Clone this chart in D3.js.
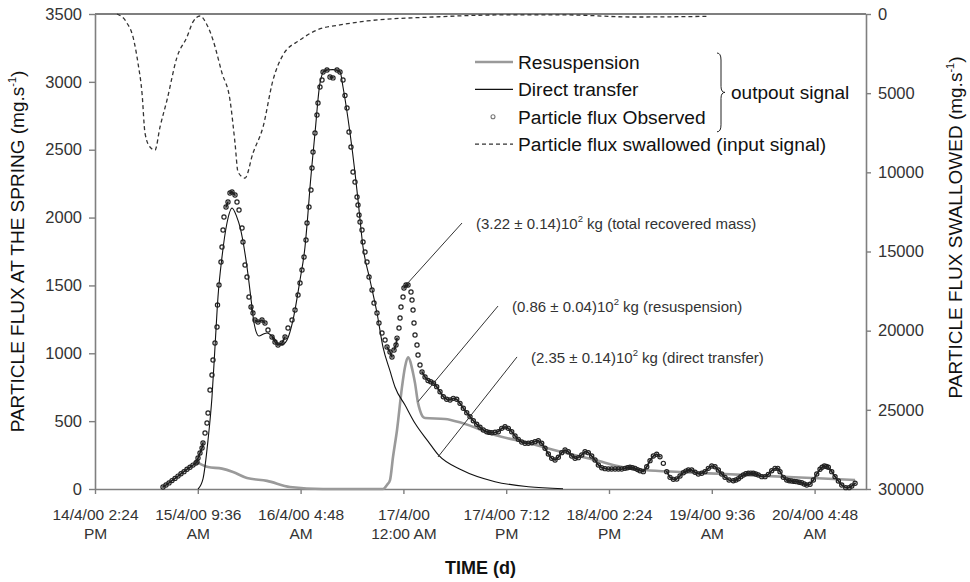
<!DOCTYPE html>
<html>
<head>
<meta charset="utf-8">
<script src="https://cdnjs.cloudflare.com/ajax/libs/d3/7.8.5/d3.min.js"></script>
<style>
  body { margin: 0; background: #fff; }
  svg { font-family: "Liberation Sans", Arial, sans-serif; }
</style>
</head>
<body>
<div id="app"></div>
<script>
const width = 970;
const height = 582;
const margin = {top: 14, right: 104, bottom: 93, left: 95};

// time axis: hours since 14/4/00 2:24 PM
const start = Date.UTC(2000, 3, 14, 14, 24);
const HOUR = 3600e3;
const timeMax = 144;
const timeTicks = [0, 19.2, 38.4, 57.6, 76.8, 96, 115.2, 134.4];
const timeLabels = [
  ['14/4/00 2:24', 'PM'], ['15/4/00 9:36', 'AM'], ['16/4/00 4:48', 'AM'], ['17/4/00', '12:00 AM'],
  ['17/4/00 7:12', 'PM'], ['18/4/00 2:24', 'PM'], ['19/4/00 9:36', 'AM'], ['20/4/00 4:48', 'AM'],
];
const leftTicks = [0, 500, 1000, 1500, 2000, 2500, 3000, 3500];
const rightTicks = [0, 5000, 10000, 15000, 20000, 25000, 30000];

// [hours, mg/s]
const observed = [
  [12.70, 15], [13.26, 30], [13.82, 45], [14.38, 62], [14.94, 78], [15.50, 95], [16.06, 112], [16.62, 128],
  [17.18, 145], [17.74, 160], [18.30, 176], [18.86, 192], [19.05, 199], [19.24, 228], [19.61, 265], [19.99, 302],
  [20.17, 339], [20.55, 413], [20.92, 486], [21.11, 560], [21.48, 730], [21.85, 840], [22.04, 950], [22.41, 1076],
  [22.79, 1194], [22.88, 1356], [23.16, 1503], [23.53, 1673], [23.72, 1783], [23.91, 1908], [24.09, 2004],
  [24.47, 2078], [24.84, 2115], [25.21, 2181], [25.59, 2189], [26.15, 2166], [26.52, 2115], [26.90, 2056],
  [27.46, 1923], [27.64, 1820], [28.02, 1651], [28.39, 1562], [28.76, 1415], [29.14, 1341], [29.51, 1297],
  [29.88, 1245], [30.44, 1231], [31.19, 1245], [31.75, 1223], [32.31, 1172], [33.06, 1120], [33.62, 1083],
  [34.18, 1061], [34.93, 1076], [35.49, 1120], [36.05, 1186], [36.80, 1245], [37.36, 1319], [37.92, 1430],
  [38.29, 1518], [38.66, 1614], [39.04, 1710], [39.41, 1835], [39.60, 1960], [39.97, 2078], [40.34, 2203],
  [40.53, 2365], [40.72, 2483], [41.09, 2623], [41.46, 2756], [41.65, 2844], [42.02, 2962], [42.40, 3014],
  [42.59, 3073], [43.33, 3087], [43.89, 3036], [44.45, 3029], [45.20, 3087], [45.76, 3073], [46.32, 3014],
  [46.69, 2900], [47.07, 2807], [47.44, 2630], [47.81, 2520], [48.19, 2336], [48.56, 2262], [48.94, 2152],
  [49.12, 2093], [49.31, 2019], [49.50, 1967], [49.87, 1908], [50.06, 1820], [50.43, 1746], [50.80, 1673],
  [51.18, 1562], [51.74, 1466], [52.11, 1371], [52.67, 1297], [53.04, 1223], [53.60, 1150], [54.17, 1098],
  [54.54, 1046], [55.10, 1010], [55.47, 973], [55.85, 1024], [56.22, 1061], [56.41, 1112], [56.78, 1186],
  [56.97, 1260], [57.15, 1341], [57.53, 1415], [57.71, 1481], [58.09, 1503], [58.46, 1503], [59.02, 1452],
  [59.21, 1393], [59.40, 1319], [59.58, 1223], [59.77, 1135], [60.14, 1061], [60.33, 987], [60.70, 914],
  [61.08, 862], [61.64, 825], [62.20, 800], [62.70, 790], [63.23, 779], [63.82, 754], [64.44, 717], [65.06, 680],
  [65.69, 661], [66.31, 656], [66.92, 668], [67.56, 661], [68.17, 631], [68.79, 595], [69.43, 562], [70.04, 533],
  [70.66, 503], [71.29, 477], [71.91, 455], [72.53, 435], [73.16, 422], [73.63, 417], [74.10, 415], [74.71, 418],
  [75.33, 422], [75.96, 447], [76.58, 459], [77.20, 447], [77.83, 422], [78.45, 391], [79.06, 366], [79.70, 346],
  [80.31, 337], [80.93, 337], [81.57, 341], [82.18, 349], [82.80, 356], [83.43, 337], [84.05, 300], [84.67, 258],
  [85.30, 226], [85.92, 214], [86.54, 234], [87.17, 268], [87.79, 287], [88.40, 275], [89.04, 243], [89.66, 226],
  [90.27, 231], [90.91, 251], [91.52, 275], [92.14, 268], [92.77, 243], [93.39, 214], [94.01, 177], [94.64, 157],
  [95.25, 150], [95.87, 147], [96.50, 147], [97.13, 147], [97.76, 147], [98.38, 147], [98.99, 152], [99.45, 157],
  [99.92, 160], [100.40, 157], [100.86, 152], [101.33, 143], [101.79, 135], [102.41, 128], [103.05, 164],
  [103.66, 209], [104.28, 243], [104.91, 256], [105.52, 238], [106.15, 189], [106.78, 128], [107.40, 86],
  [108.02, 71], [108.66, 74], [109.26, 96], [109.88, 120], [110.35, 132], [110.82, 140], [111.45, 140],
  [112.07, 123], [112.68, 111], [113.32, 116], [113.93, 128], [114.55, 152], [115.19, 169], [115.80, 164],
  [116.42, 140], [117.05, 111], [117.67, 86], [118.42, 66], [119.22, 61], [119.70, 66], [120.16, 76],
  [120.62, 90], [121.09, 103], [121.55, 112], [122.02, 116], [122.50, 117], [122.96, 116], [123.42, 110],
  [123.89, 103], [124.53, 91], [125.14, 91], [125.76, 108], [126.39, 135], [127.01, 152], [127.52, 152],
  [127.94, 128], [128.56, 86], [129.20, 66], [129.66, 61], [130.13, 59], [130.60, 56], [131.06, 54], [131.53, 50],
  [132.00, 46], [132.46, 37], [132.93, 29], [133.55, 35], [134.17, 66], [134.80, 111], [135.41, 145], [135.80, 160],
  [136.22, 169], [136.60, 166], [136.96, 160], [137.60, 128], [138.22, 91], [138.84, 59], [139.47, 29],
  [140.22, 10], [140.84, 10], [141.34, 22], [141.96, 42],
];

const directTransfer = [
  [19.24, 0], [20.17, 75], [21.11, 361], [21.85, 678], [22.41, 1046], [22.97, 1415], [23.72, 1710], [24.65, 1960],
  [25.59, 2071], [26.46, 2007], [27.08, 1931], [28.39, 1636], [29.32, 1341], [29.70, 1223], [30.63, 1127],
  [31.38, 1140], [32.13, 1150], [33.25, 1120], [34.55, 1061], [35.30, 1070], [35.86, 1098], [36.98, 1245],
  [38.29, 1540], [39.22, 1783], [39.78, 2034], [40.16, 2225], [41.09, 2623], [42.02, 2991], [42.96, 3087],
  [44.45, 3090], [45.76, 3075], [46.32, 2962], [47.63, 2623], [48.56, 2330], [49.12, 2130], [50.06, 1783],
  [51.36, 1540], [52.67, 1297], [53.79, 1046], [55.10, 870], [56.03, 752], [57.90, 619], [59.77, 484],
  [62.25, 349], [64.12, 251], [68.49, 140], [74.71, 54], [80.93, 17], [87.41, 2],
];

const resuspension = [
  [19.24, 195], [21.11, 162], [23.72, 150], [25.78, 125], [28.39, 81], [32.13, 60], [36.42, 15], [42.59, 0],
  [53.79, 0], [54.54, 30], [55.10, 66], [55.66, 236], [56.41, 435], [57.34, 752], [57.90, 899], [58.46, 970],
  [59.40, 855], [59.77, 780], [60.33, 634], [60.70, 580], [61.26, 531], [61.64, 523], [65.37, 516], [68.55, 486],
  [74.71, 398], [80.87, 339], [87.22, 273], [93.39, 214], [98.43, 162], [102.73, 140], [109.26, 125],
  [117.67, 110], [126.08, 95], [133.92, 81], [141.96, 66],
];

// right axis, mg/s (reversed)
const swallowed = [
  [4.11, 0], [5.98, 570], [7.10, 1450], [8.03, 3100], [8.78, 4990], [9.34, 7520], [10.27, 8400], [11.21, 8590],
  [12.14, 7140], [13.45, 5430], [15.32, 2720], [17.18, 1450], [18.30, 500], [19.61, 126], [20.92, 690],
  [22.04, 1640], [23.72, 3730], [25.21, 5430], [26.15, 8150], [26.71, 9980], [28.02, 10360], [29.51, 8780],
  [31.38, 7140], [33.25, 4170], [35.11, 2590], [38.29, 1640], [41.46, 1010], [45.76, 690], [50.80, 440],
  [63.13, 190], [75.64, 60], [88.16, 60], [100.49, 190], [114.31, 150],
];

const annotations = [
  {pre: '(3.22 \u00b1 0.14)10', post: ' kg (total recovered mass)', from: [68.55, 1960], to: [58.09, 1503]},
  {pre: '(0.86 \u00b1 0.04)10', post: ' kg (resuspension)', from: [75.27, 1348], to: [60.33, 643]},
  {pre: '(2.35 \u00b1 0.14)10', post: ' kg (direct transfer)', from: [78.82, 973], to: [64.06, 236]},
];

const legendItems = ['Resuspension', 'Direct transfer', 'Particle flux Observed', 'Particle flux swallowed (input signal)'];

const toDate = (h) => new Date(start + h * HOUR);

const x = d3.scaleUtc()
  .domain([toDate(0), toDate(timeMax)])
  .range([margin.left, width - margin.right]);
const y = d3.scaleLinear().domain([0, 3500]).range([height - margin.bottom, margin.top]);
const y2 = d3.scaleLinear().domain([0, 30000]).range([margin.top, height - margin.bottom]);

const svg = d3.select('#app').append('svg')
  .attr('width', width)
  .attr('height', height)
  .attr('viewBox', [0, 0, width, height]);

const axisColor = '#7f7f7f';
const textColor = '#333';

// frame top
svg.append('line')
  .attr('x1', margin.left).attr('x2', width - margin.right)
  .attr('y1', margin.top).attr('y2', margin.top)
  .attr('stroke', axisColor).attr('stroke-width', 2);

const gLeft = svg.append('g')
  .attr('transform', `translate(${margin.left},0)`)
  .call(d3.axisLeft(y).tickValues(leftTicks).tickSize(6).tickPadding(7).tickSizeOuter(0).tickFormat(d3.format('d')));
const gRight = svg.append('g')
  .attr('transform', `translate(${width - margin.right},0)`)
  .call(d3.axisRight(y2).tickValues(rightTicks).tickSize(5).tickPadding(7).tickSizeOuter(0).tickFormat(d3.format('d')));
const gBottom = svg.append('g')
  .attr('transform', `translate(0,${height - margin.bottom})`)
  .call(d3.axisBottom(x).tickValues(timeTicks.map(toDate)).tickSize(5).tickSizeOuter(0).tickFormat(() => ''));

[gLeft, gRight, gBottom].forEach((g)=>{
  g.select('.domain').attr('stroke', axisColor).attr('stroke-width', 1.6);
  g.selectAll('.tick line').attr('stroke', axisColor).attr('stroke-width', 1.4);
  g.selectAll('.tick text').attr('fill', textColor).attr('font-size', 15.5)
    .attr('font-family', '"Liberation Sans", Arial, sans-serif');
});
gLeft.selectAll('.tick text').attr('font-size', 16.5);
gRight.selectAll('.tick text').attr('font-size', 16.5);

gBottom.selectAll('.tick text').each(function(d, i) {
  const t = d3.select(this).attr('y', 0).attr('dy', null);
  timeLabels[i].forEach((line, j)=>{
    t.append('tspan').attr('x', 0).attr('y', 31 + j * 19).text(line);
  });
});

// axis titles
const yTitle = (t)=>{
  t.append('tspan').attr('font-size', 11).attr('dy', -8).text('-1');
  t.append('tspan').attr('dy', 8).text(')');
};
svg.append('text')
  .attr('transform', `translate(24,${(margin.top + height - margin.bottom) / 2}) rotate(-90)`)
  .attr('text-anchor', 'middle')
  .attr('font-size', 19)
  .attr('fill', '#111')
  .call((t)=>{
    t.append('tspan').text('PARTICLE FLUX AT THE SPRING (mg.s');
    yTitle(t);
  });

svg.append('text')
  .attr('transform', `translate(962,${(margin.top + height - margin.bottom) / 2 - 24}) rotate(-90)`)
  .attr('text-anchor', 'middle')
  .attr('font-size', 19)
  .attr('fill', '#111')
  .call((t)=>{
    t.append('tspan').text('PARTICLE FLUX SWALLOWED (mg.s');
    yTitle(t);
  });

svg.append('text')
  .attr('x', (margin.left + width - margin.right) / 2)
  .attr('y', 574)
  .attr('text-anchor', 'middle')
  .attr('font-size', 18)
  .attr('font-weight', 'bold')
  .attr('fill', '#111')
  .text('TIME (d)');

// series
const line = d3.line()
  .x((d)=>x(toDate(d[0])))
  .y((d)=>y(d[1]))
  .curve(d3.curveMonotoneX);
const line2 = d3.line()
  .x((d)=>x(toDate(d[0])))
  .y((d)=>y2(d[1]))
  .curve(d3.curveMonotoneX);

svg.append('path')
  .datum(swallowed)
  .attr('d', line2)
  .attr('fill', 'none')
  .attr('stroke', '#333')
  .attr('stroke-width', 1.3)
  .attr('stroke-dasharray', '4,3');

svg.append('path')
  .datum(resuspension)
  .attr('d', line)
  .attr('fill', 'none')
  .attr('stroke', '#9a9a9a')
  .attr('stroke-width', 2.6);

svg.append('path')
  .datum(directTransfer)
  .attr('d', line)
  .attr('fill', 'none')
  .attr('stroke', '#111')
  .attr('stroke-width', 1.1);

// observed markers: where samples sit close together they merge into a solid band
const obsPts = observed.map((d)=>[x(toDate(d[0])), y(d[1])]);
let band = '';
for (let i = 1; i < obsPts.length; i++) {
  const [ax, ay] = obsPts[i - 1];
  const [bx, by] = obsPts[i];
  if (Math.hypot(bx - ax, by - ay) < 7) band += `M${ax},${ay}L${bx},${by}`;
}
svg.append('path')
  .attr('d', band)
  .attr('fill', 'none')
  .attr('stroke', '#222')
  .attr('stroke-width', 1.8)
  .attr('stroke-linecap', 'round');

svg.append('g')
  .selectAll('circle')
  .data(obsPts)
  .join('circle')
  .attr('cx', (d)=>d[0])
  .attr('cy', (d)=>d[1])
  .attr('r', 2.1)
  .attr('fill', 'none')
  .attr('stroke', '#222')
  .attr('stroke-width', 1.2);

// annotations
const ann = svg.append('g');
annotations.forEach((a)=>{
  const x1 = x(toDate(a.from[0]));
  const y1 = y(a.from[1]);
  ann.append('line')
    .attr('x1', x1).attr('y1', y1)
    .attr('x2', x(toDate(a.to[0]))).attr('y2', y(a.to[1]))
    .attr('stroke', '#333').attr('stroke-width', 1);
  const t = ann.append('text')
    .attr('x', x1 + 14)
    .attr('y', y1 + 6)
    .attr('font-size', 15)
    .attr('fill', '#333');
  t.append('tspan').text(a.pre);
  t.append('tspan').attr('font-size', 9.5).attr('dy', -7).text('2');
  t.append('tspan').attr('dy', 7).text(a.post);
});

// legend
const lg = svg.append('g').attr('transform', 'translate(475,62)');
const rowH = 27.4;
legendItems.forEach((label, i)=>{
  const row = lg.append('g').attr('transform', `translate(0,${i * rowH})`);
  if (i === 0) row.append('line').attr('x2', 38).attr('stroke', '#9a9a9a').attr('stroke-width', 2.6);
  if (i === 1) row.append('line').attr('x2', 38).attr('stroke', '#111').attr('stroke-width', 1.4);
  if (i === 2) row.append('circle').attr('cx', 18).attr('r', 2).attr('fill', 'none').attr('stroke', '#777').attr('stroke-width', 1.1);
  if (i === 3) row.append('line').attr('x2', 38).attr('stroke', '#333').attr('stroke-width', 1.3).attr('stroke-dasharray', '4,3');
  row.append('text')
    .attr('x', 43)
    .attr('dy', '0.35em')
    .attr('font-size', 19.2)
    .attr('fill', '#111')
    .text(label);
});

// brace grouping the first three entries
const bx = 717;
const bTop = 62 - 9;
const bBot = 62 + 2 * rowH + 15;
const bMid = (bTop + bBot) / 2;
svg.append('path')
  .attr('d', `M${bx},${bTop} Q${bx + 4},${bTop} ${bx + 4},${bTop + 7} L${bx + 4},${bMid - 6} Q${bx + 4},${bMid} ${bx + 8},${bMid} Q${bx + 4},${bMid} ${bx + 4},${bMid + 6} L${bx + 4},${bBot - 7} Q${bx + 4},${bBot} ${bx},${bBot}`)
  .attr('fill', 'none')
  .attr('stroke', '#222')
  .attr('stroke-width', 1);
svg.append('text')
  .attr('x', bx + 14)
  .attr('y', bMid)
  .attr('dy', '0.35em')
  .attr('font-size', 19)
  .attr('fill', '#111')
  .text('outpout signal');
</script>
</body>
</html>
